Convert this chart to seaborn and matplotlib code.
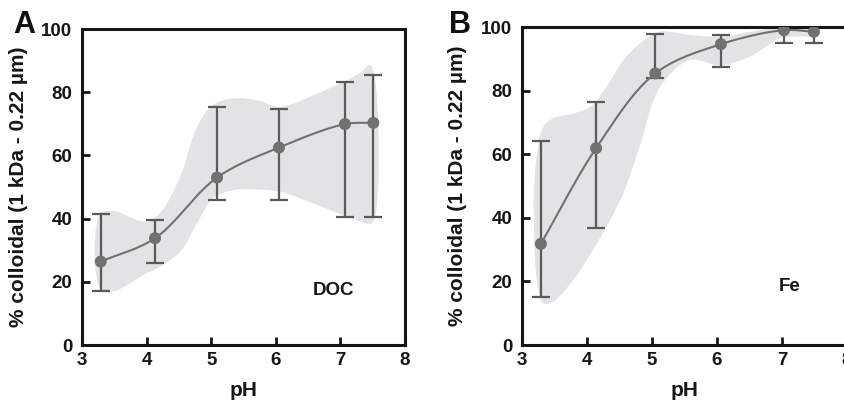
import numpy as np
import matplotlib
matplotlib.use("Agg")
import matplotlib.pyplot as plt
import seaborn as sns

# --- DOC (panel A) ---
ph_a = [3.29, 4.13, 5.09, 6.05, 7.07, 7.51]
doc_mean = [26.4, 33.8, 53.0, 62.5, 69.9, 70.3]
doc_low = [17.2, 26.0, 45.9, 45.9, 40.6, 40.6]
doc_high = [41.5, 39.6, 75.4, 74.8, 83.2, 85.4]

# envelope of the DOC range
band_a_x = [3.28, 3.48, 4.00, 4.21, 4.52, 4.78, 5.03, 5.34, 5.70, 6.06, 6.58, 7.10, 7.30, 7.45, 7.53]
band_a_hi = [41.5, 42.4, 39.0, 41.8, 53.3, 69.0, 76.0, 78.0, 77.5, 75.4, 79.0, 83.9, 86.0, 88.6, 85.0]
band_a_lo = [18.0, 17.0, 22.7, 24.8, 29.5, 38.5, 46.5, 49.0, 49.2, 48.5, 44.8, 40.6, 39.2, 38.3, 40.0]

# --- Fe (panel B) ---
ph_b = [3.29, 4.14, 5.05, 6.06, 7.03, 7.49]
fe_mean = [31.8, 61.9, 85.4, 94.6, 99.0, 98.5]
fe_low = [15.2, 36.9, 84.1, 87.5, 95.1, 95.1]
fe_high = [64.3, 76.5, 97.8, 97.5, 100.0, 100.0]

band_b_x = [3.18, 3.23, 3.33, 3.48, 3.79, 4.05, 4.30, 4.56, 4.82, 5.12, 5.58, 6.05, 6.51, 6.97, 7.23, 7.57]
band_b_hi = [46.0, 60.3, 68.6, 71.3, 72.8, 74.9, 81.2, 89.6, 94.9, 98.5, 97.5, 97.0, 98.5, 100.0, 100.0, 99.3]
band_b_lo = [44.0, 20.0, 13.0, 13.6, 20.5, 28.5, 37.2, 47.7, 63.0, 81.0, 89.6, 88.0, 90.7, 96.5, 97.0, 97.3]

x_ticks = [3, 4, 5, 6, 7, 8]
y_ticks = [0, 20, 40, 60, 80, 100]
y_label = "% colloidal (1 kDa - 0.22 µm)"

SCALE = np.array([1 / 5.0, 1 / 100.0])


def catmull_rom(points, n=30, closed=False):
    """Centripetal Catmull-Rom curve through the given points."""
    P = np.asarray(points, float) * SCALE
    if closed:
        pts = np.vstack([P[-1], P, P[0], P[1]])
    else:
        pts = np.vstack([2 * P[0] - P[1], P, 2 * P[-1] - P[-2]])
    out = []
    for i in range(len(pts) - 3):
        p0, p1, p2, p3 = pts[i:i + 4]
        t0 = 0.0
        t1 = t0 + max(np.linalg.norm(p1 - p0), 1e-9) ** 0.5
        t2 = t1 + max(np.linalg.norm(p2 - p1), 1e-9) ** 0.5
        t3 = t2 + max(np.linalg.norm(p3 - p2), 1e-9) ** 0.5
        t = np.linspace(t1, t2, n)[:, None]
        a1 = (t1 - t) / (t1 - t0) * p0 + (t - t0) / (t1 - t0) * p1
        a2 = (t2 - t) / (t2 - t1) * p1 + (t - t1) / (t2 - t1) * p2
        a3 = (t3 - t) / (t3 - t2) * p2 + (t - t2) / (t3 - t2) * p3
        b1 = (t2 - t) / (t2 - t0) * a1 + (t - t0) / (t2 - t0) * a2
        b2 = (t3 - t) / (t3 - t1) * a2 + (t - t1) / (t3 - t1) * a3
        c = (t2 - t) / (t2 - t1) * b1 + (t - t1) / (t2 - t1) * b2
        out.append(c)
    return np.vstack(out) / SCALE


sns.set_theme(style="ticks")
plt.rcParams["font.family"] = ["Liberation Sans", "DejaVu Sans"]
plt.rcParams["font.weight"] = "bold"
plt.rcParams["axes.labelweight"] = "bold"

BAND = "#e2e3e5"
GREY = "#717171"
BAR = "#5a5a5a"
CAP = "#1e1e1e"
INK = "#161616"

fig = plt.figure(figsize=(8.45, 4.01), dpi=100)
ax_a = fig.add_axes([82 / 845, 56 / 401, 323 / 845, 316 / 401])
ax_b = fig.add_axes([522 / 845, 56 / 401, 325 / 845, 318 / 401])


def draw_panel(ax, x, mean, low, high, bx, bhi, blo, name, name_xy, letter, letter_x, label_x):
    outline = list(zip(bx, bhi)) + list(zip(bx[::-1], blo[::-1]))
    shape = catmull_rom(outline, n=20, closed=True)
    ax.fill(shape[:, 0], shape[:, 1], color=BAND, lw=0, zorder=1)

    mean = np.asarray(mean)
    yerr = [mean - np.asarray(low), np.asarray(high) - mean]
    _, caps, _ = ax.errorbar(x, mean, yerr=yerr, fmt="none", ecolor=BAR,
                             elinewidth=1.6, capsize=6.5, capthick=1.6, zorder=2)
    for c in caps:
        c.set_color(CAP)

    curve = catmull_rom(list(zip(x, mean)), n=30)
    sns.lineplot(x=curve[:, 0], y=curve[:, 1], sort=False, estimator=None,
                 color=GREY, lw=1.5, ax=ax, zorder=3)
    sns.scatterplot(x=x, y=mean, color=GREY, s=75, edgecolor="none", ax=ax, zorder=4)

    ax.set_xlim(3, 8)
    ax.set_ylim(0, 100)
    ax.set_xticks(x_ticks)
    ax.set_yticks(y_ticks)
    ax.tick_params(direction="in", length=6, width=2, labelsize=13.5, colors=INK)
    ax.tick_params(axis="y", pad=7)
    ax.tick_params(axis="x", pad=5)
    for lab in ax.get_xticklabels() + ax.get_yticklabels():
        lab.set_fontweight("bold")
    for s in ax.spines.values():
        s.set_linewidth(2.2)
        s.set_color(INK)
        s.set_visible(True)
    ax.set_xlabel("pH", fontsize=15, fontweight="bold", labelpad=9, color=INK)
    ax.set_ylabel(y_label, fontsize=15, fontweight="bold", color=INK)
    ax.yaxis.set_label_coords(label_x, 0.5)
    ax.text(name_xy[0], name_xy[1], name, fontsize=13.5, fontweight="bold",
            ha="center", va="center", color=INK)
    fig.text(letter_x / 845, 1 - 25 / 401, letter, fontsize=22, fontweight="bold",
             ha="center", va="center", color="#111111")


draw_panel(ax_a, ph_a, doc_mean, doc_low, doc_high, band_a_x, band_a_hi, band_a_lo,
           "DOC", (6.89, 17.1), "A", 24, -0.167)
draw_panel(ax_b, ph_b, fe_mean, fe_low, fe_high, band_b_x, band_b_hi, band_b_lo,
           "Fe", (7.11, 18.4), "B", 460, -0.169)

fig.savefig("out.png", dpi=100)
